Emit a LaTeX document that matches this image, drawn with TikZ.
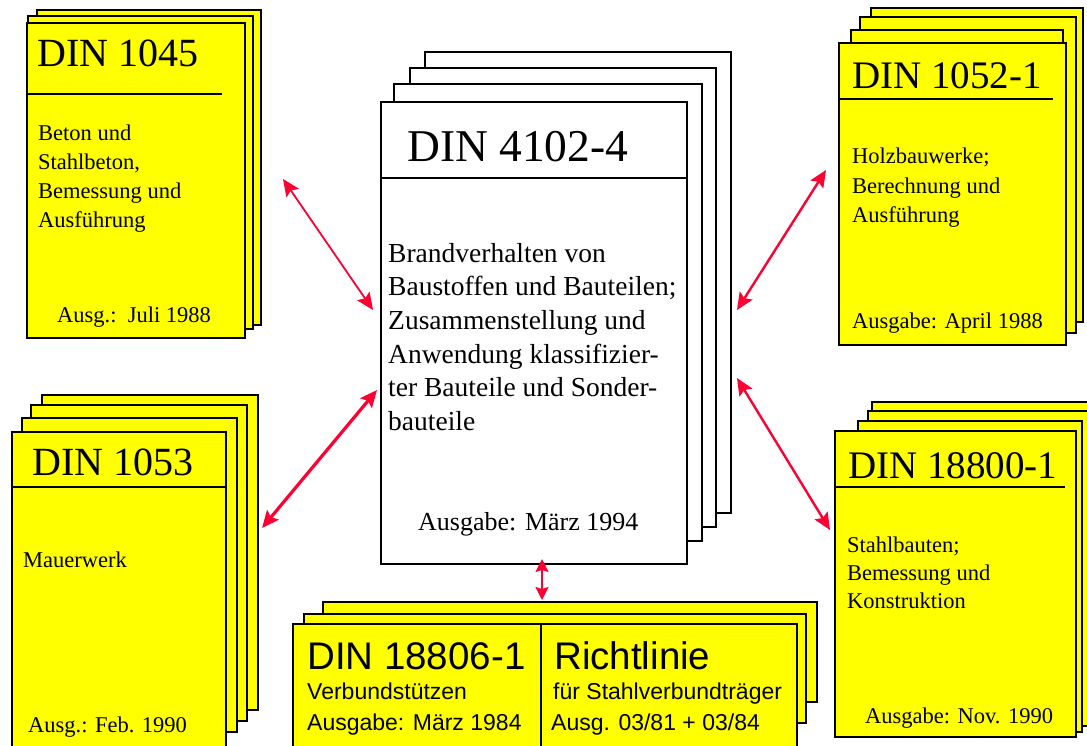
\documentclass[tikz,border=0pt]{standalone}
\usepackage{fontspec}
\setmainfont{Liberation Serif}
\newfontfamily\arialfont{Liberation Sans}
\usetikzlibrary{arrows.meta}
\definecolor{docyellow}{RGB}{255,255,0}
\definecolor{linkred}{RGB}{255,0,51}
\begin{document}
\begin{tikzpicture}[x=1pt,y=-1pt,
  ypage/.style={fill=docyellow,draw=black,line width=1.4pt},
  wpage/.style={fill=white,draw=black,line width=1.4pt},
  rule/.style={draw=black,line width=1.4pt},
  link/.style={draw=linkred,line width=#1,{Stealth[length=17pt,width=15pt,inset=3pt]}-{Stealth[length=17pt,width=15pt,inset=3pt]}},
  smalllink/.style={draw=linkred,line width=#1,{Stealth[length=13pt,width=13pt,inset=2pt]}-{Stealth[length=13pt,width=13pt,inset=2pt]}},
  title/.style={anchor=base west,inner sep=0pt,font=\fontsize{40}{40}\selectfont},
  bigtitle/.style={anchor=base west,inner sep=0pt,font=\fontsize{45.5}{45.5}\selectfont},
  body/.style={anchor=base west,inner sep=0pt,font=\fontsize{22.5}{22.5}\selectfont},
  cbody/.style={anchor=base west,inner sep=0pt,font=\fontsize{27.5}{27.5}\selectfont},
  cdate/.style={anchor=base west,inner sep=0pt,font=\fontsize{26}{26}\selectfont},
  stitle/.style={anchor=base west,inner sep=0pt,font=\arialfont\fontsize{38.5}{38.5}\selectfont},
  sbody/.style={anchor=base west,inner sep=0pt,font=\arialfont\fontsize{23}{23}\selectfont},
]
\useasboundingbox (0,0) rectangle (1087,745);
\clip (0,0) rectangle (1087,745);

% ---------- DIN 1045 (top left) ----------
\draw[ypage] (37,10) rectangle (261,325);
\draw[ypage] (28,16) rectangle (253,329);
\draw[ypage] (27,23) rectangle (245,338);
\draw[rule] (27,94) -- (222,94);
\node[title] (t1045) at (37,66) {DIN 1045};
\node[body] (b1045a) at (38,140) {Beton und};
\node[body] (b1045b) at (38,169) {Stahlbeton,};
\node[body] (b1045c) at (38,198) {Bemessung und};
\node[body] (b1045d) at (38,227) {Ausführung};
\node[body] (d1045) at (57,322) {Ausg.:\ \ Juli 1988};

% ---------- DIN 1052-1 (top right) ----------
\draw[ypage] (871,8) rectangle (1083,322);
\draw[ypage] (860,17) rectangle (1076,333);
\draw[ypage] (851,30) rectangle (1063,340);
\draw[ypage] (839,43) rectangle (1066,345);
\draw[rule] (839,99) -- (1053,99);
\node[title,font=\fontsize{39}{39}\selectfont] (t1052) at (852,88) {DIN 1052-1};
\node[body] (b1052a) at (852,163) {Holzbauwerke;};
\node[body] (b1052b) at (852,193) {Berechnung und};
\node[body] (b1052c) at (852,222) {Ausführung};
\node[body] (d1052) at (852,328) {Ausgabe: April 1988};

% ---------- DIN 1053 (bottom left) ----------
\draw[ypage] (42,395) rectangle (258,710);
\draw[ypage] (31,405) rectangle (247,721);
\draw[ypage] (22,418) rectangle (237,732);
\draw[ypage] (12,432) rectangle (226,760);
\draw[rule] (12,487) -- (226,487);
\node[title] (t1053) at (32,475) {DIN 1053};
\node[body] (b1053) at (23,567) {Mauerwerk};
\node[body] (d1053) at (28,732) {Ausg.: Feb. 1990};

% ---------- DIN 18800-1 (bottom right) ----------
\draw[ypage] (872,402) rectangle (1095,720);
\draw[ypage] (868,411) rectangle (1088,726);
\draw[ypage] (858,421) rectangle (1082,732);
\draw[ypage] (835,431) rectangle (1076,737);
\draw[rule] (835,487) -- (1065,487);
\node[title,font=\fontsize{39}{39}\selectfont] (t18800) at (848,478) {DIN 18800-1};
\node[body] (b18800a) at (847,552) {Stahlbauten;};
\node[body] (b18800b) at (847,580) {Bemessung und};
\node[body] (b18800c) at (847,608) {Konstruktion};
\node[body] (d18800) at (865,723) {Ausgabe: Nov. 1990};

% ---------- DIN 4102-4 (centre) ----------
\draw[wpage] (425,52) rectangle (731,513);
\draw[wpage] (410,68) rectangle (716,527);
\draw[wpage] (394,84) rectangle (702,541);
\draw[wpage] (381,102) rectangle (687,564);
\draw[rule] (381,178) -- (687,178);
\node[bigtitle] (t4102) at (407,161) {DIN 4102-4};
\node[cbody] (b4102a) at (388,262) {Brandverhalten von};
\node[cbody] (b4102b) at (388,295.5) {Baustoffen und Bauteilen;};
\node[cbody] (b4102c) at (388,329) {Zusammenstellung und};
\node[cbody] (b4102d) at (388,363) {Anwendung klassifizier-};
\node[cbody] (b4102e) at (388,396.5) {ter Bauteile und Sonder-};
\node[cbody] (b4102f) at (388,430) {bauteile};
\node[cdate] (d4102) at (418,530) {Ausgabe: März 1994};

% ---------- DIN 18806-1 / Richtlinie (bottom centre) ----------
\draw[ypage] (323,602) rectangle (817,702);
\draw[ypage] (304,614) rectangle (806,723);
\draw[ypage] (293,624) rectangle (797,760);
\draw[rule] (541,624) -- (541,760);
\node[stitle] (t18806) at (307,669) {DIN 18806-1};
\node[sbody] (b18806) at (307,699) {Verbundstützen};
\node[sbody] (d18806) at (307,730) {Ausgabe: März 1984};
\node[stitle] (trl) at (554,669) {Richtlinie};
\node[sbody] (brl) at (553,699) {für Stahlverbundträger};
\node[sbody] (drl) at (551,730) {Ausg. 03/81 + 03/84};

% ---------- connectors ----------
\coordinate (a1s) at (283,179);
\coordinate (a1e) at (373,310);
\coordinate (a2s) at (377,390);
\coordinate (a2e) at (262,528);
\coordinate (a3s) at (826,170);
\coordinate (a3e) at (737,310);
\coordinate (a4s) at (737,378);
\coordinate (a4e) at (830,530);
\coordinate (a5s) at (542,559);
\coordinate (a5e) at (542,600);
\draw[link=1.8pt] (a1s) -- (a1e);
\draw[link=3.2pt] (a2s) -- (a2e);
\draw[link=2.4pt] (a3s) -- (a3e);
\draw[link=2.4pt] (a4s) -- (a4e);
\draw[smalllink=2pt] (a5s) -- (a5e);
\end{tikzpicture}
\end{document}
